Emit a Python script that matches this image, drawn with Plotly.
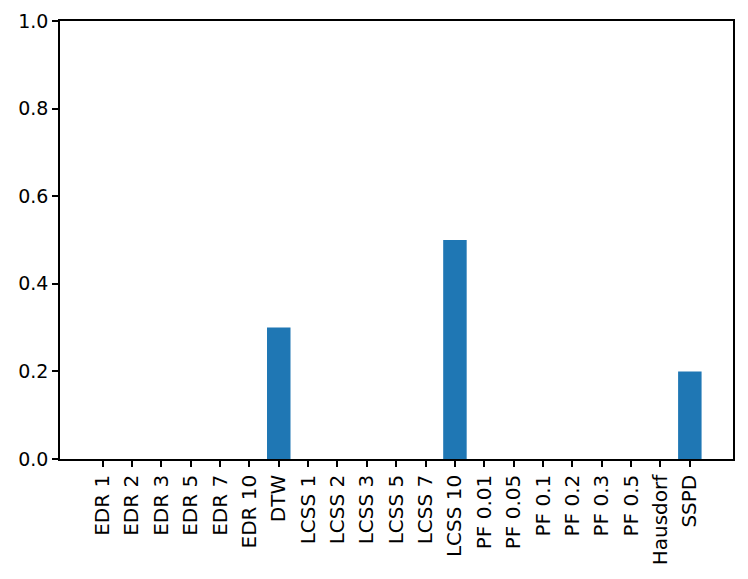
import plotly.graph_objects as go

categories = ["EDR 1", "EDR 2", "EDR 3", "EDR 5", "EDR 7", "EDR 10", "DTW",
              "LCSS 1", "LCSS 2", "LCSS 3", "LCSS 5", "LCSS 7", "LCSS 10",
              "PF 0.01", "PF 0.05", "PF 0.1", "PF 0.2", "PF 0.3", "PF 0.5",
              "Hausdorf", "SSPD"]
values = [0, 0, 0, 0, 0, 0, 0.3, 0, 0, 0, 0, 0, 0.5,
          0, 0, 0, 0, 0, 0, 0, 0.2]
y_ticks = [0.0, 0.2, 0.4, 0.6, 0.8, 1.0]
y_ticklabels = ["0.0", "0.2", "0.4", "0.6", "0.8", "1.0"]

fig = go.Figure(go.Bar(x=list(range(len(categories))), y=values, width=0.8,
                       marker=dict(color="#1f77b4", line=dict(width=0))))

fig.update_layout(
    width=748, height=579,
    margin=dict(l=60, r=15, t=21, b=120, autoexpand=False),
    plot_bgcolor="white", paper_bgcolor="white",
    font=dict(family="DejaVu Sans", size=19, color="black"),
    showlegend=False,
)
fig.update_xaxes(
    range=[-1.45, 21.47], tickmode="array",
    tickvals=list(range(len(categories))), ticktext=categories,
    tickangle=-90, ticks="outside", ticklen=6, tickwidth=1.5, tickcolor="black",
    tickfont=dict(size=20),
    showline=True, linecolor="black", linewidth=1.5, mirror=True,
    showgrid=False, zeroline=False, automargin=False,
)
fig.update_yaxes(
    range=[0, 1], tickmode="array", tickvals=y_ticks, ticktext=y_ticklabels,
    ticks="outside", ticklen=6, tickwidth=1.5, tickcolor="black",
    tickfont=dict(size=19),
    showline=True, linecolor="black", linewidth=1.5, mirror=True,
    showgrid=False, zeroline=False, automargin=False,
)

fig.write_html("out.html", config={"displayModeBar": False},
               post_script="document.body.style.margin='0';document.body.style.overflow='hidden';")
